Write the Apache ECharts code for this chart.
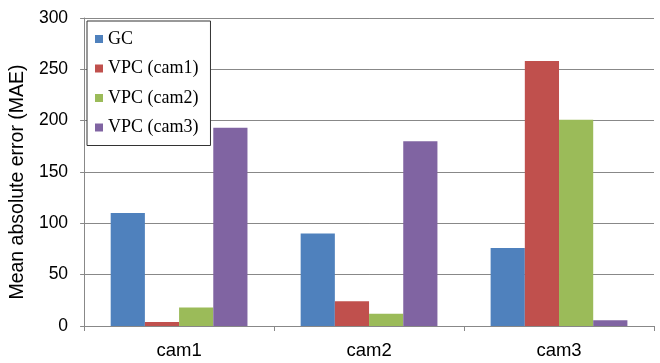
<!DOCTYPE html>
<html><head><meta charset="utf-8">
<script src="https://cdn.jsdelivr.net/npm/echarts@6/dist/echarts.min.js"></script>
<style>html,body{margin:0;padding:0;background:#fff}#c{width:660px;height:363px}</style>
</head><body><div id="c"></div>
<script>
const categories = ['cam1', 'cam2', 'cam3'];
const seriesNames = ['GC', 'VPC (cam1)', 'VPC (cam2)', 'VPC (cam3)'];
const gcValues = [110, 90, 76];
const vpcCam1Values = [4, 24, 258];
const vpcCam2Values = [18, 12, 201];
const vpcCam3Values = [193, 180, 5.5];
const yTicks = [0, 50, 100, 150, 200, 250, 300];
const colors = ['#4F81BD', '#C0504D', '#9BBB59', '#8064A2'];

const allValues = [gcValues, vpcCam1Values, vpcCam2Values, vpcCam3Values];
const chart = echarts.init(document.getElementById('c'));
chart.setOption({
  animation: false,
  color: colors,
  grid: { left: 84, right: 6, top: 18, bottom: 37 },
  legend: {
    orient: 'vertical', left: 87, top: 21,
    backgroundColor: '#fff', borderColor: '#333', borderWidth: 1,
    padding: [9, 12, 9, 8],
    itemWidth: 8, itemHeight: 8, itemGap: 11.5, icon: 'rect',
    textStyle: { fontFamily: 'Liberation Serif', fontSize: 18, color: '#000', lineHeight: 18 },
    data: seriesNames, z: 10
  },
  xAxis: {
    type: 'category', data: categories,
    axisLine: { lineStyle: { color: '#888' } },
    axisTick: { show: true, length: 5, lineStyle: { color: '#888' } },
    axisLabel: { fontFamily: 'Liberation Sans', fontSize: 18.5, color: '#000', margin: 15 }
  },
  yAxis: {
    type: 'value', min: yTicks[0], max: yTicks[yTicks.length - 1], interval: yTicks[1] - yTicks[0],
    name: 'Mean absolute error (MAE)', nameLocation: 'middle', nameGap: 50,
    nameTextStyle: { fontFamily: 'Liberation Sans', fontSize: 19.5, color: '#000', padding: [0, 20, 0, 0] },
    axisLine: { show: true, lineStyle: { color: '#888' } },
    axisTick: { show: true, length: 4, lineStyle: { color: '#888' } },
    axisLabel: { fontFamily: 'Liberation Sans', fontSize: 17.5, color: '#000', margin: 16 },
    splitLine: { lineStyle: { color: '#888', width: 1 } }
  },
  series: seriesNames.map((n, i) => ({
    name: n, type: 'bar', data: allValues[i],
    barGap: '0%', barCategoryGap: '28%',
    itemStyle: { color: colors[i] }
  }))
});
</script></body></html>
